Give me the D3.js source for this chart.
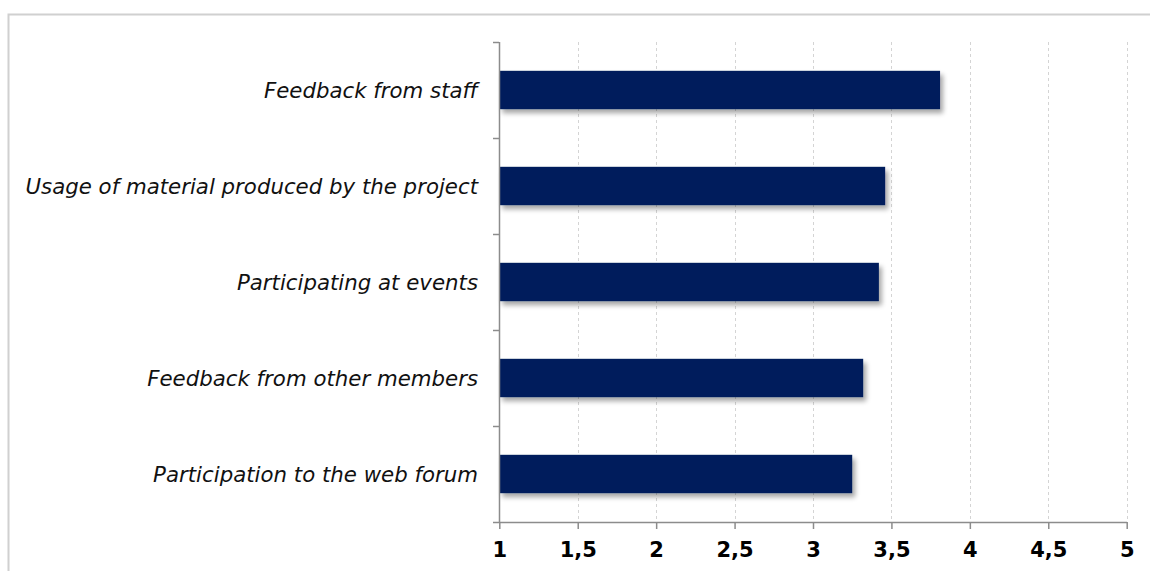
<!DOCTYPE html>
<html><head><meta charset="utf-8">
<script src="https://cdn.jsdelivr.net/npm/d3@7"></script>
<style>body{margin:0;background:#fff}svg{display:block}</style>
</head><body>
<script>
const categories = ["Feedback from staff","Usage of material produced by the project","Participating at events","Feedback from other members","Participation to the web forum"];
const values = [3.81, 3.46, 3.42, 3.32, 3.25];
const ticks = [1,1.5,2,2.5,3,3.5,4,4.5,5];
const tickLabels = ["1","1,5","2","2,5","3","3,5","4","4,5","5"];

const W=1150,H=571;
const svg=d3.select("body").append("svg").attr("width",W).attr("height",H);
const defs=svg.append("defs");
const f=defs.append("filter").attr("id","sh").attr("x","-10%").attr("y","-30%").attr("width","130%").attr("height","180%");
f.append("feGaussianBlur").attr("in","SourceAlpha").attr("stdDeviation",2.5);
f.append("feOffset").attr("dx",3).attr("dy",4).attr("result","b");
f.append("feComponentTransfer").append("feFuncA").attr("type","linear").attr("slope",0.35);
const m=f.append("feMerge");m.append("feMergeNode");m.append("feMergeNode").attr("in","SourceGraphic");

// frame
svg.append("path").attr("d","M8.5,571 L8.5,14.5 L1150,14.5").attr("fill","none").attr("stroke","#d0d0d0").attr("stroke-width",2);

const x=d3.scaleLinear().domain([1,5]).range([499.3,1126.7]);
const y=d3.scaleBand().domain(categories).range([42,522]).paddingInner(0.6).paddingOuter(0.3);

// grid
svg.append("g").selectAll("line").data(ticks.slice(1)).join("line")
 .attr("x1",d=>Math.round(x(d))+0.5).attr("x2",d=>Math.round(x(d))+0.5).attr("y1",42).attr("y2",522)
 .attr("stroke","#d4d4d4").attr("stroke-dasharray","3,3");

// bars
svg.append("g").selectAll("rect").data(values).join("rect")
 .attr("x",x(1)).attr("y",(d,i)=>y(categories[i])).attr("width",d=>x(d)-x(1)).attr("height",y.bandwidth())
 .attr("fill","#001f5c").attr("filter","url(#sh)");

// y axis
const yl=svg.append("g");
yl.append("line").attr("x1",499.5).attr("x2",499.5).attr("y1",42).attr("y2",522).attr("stroke","#8c8c8c").attr("stroke-width",1.5);
const bounds=[42,138,234,330,426];
yl.selectAll("line.t").data(bounds).join("line").attr("class","t").attr("x1",493).attr("x2",499).attr("y1",d=>d+0.5).attr("y2",d=>d+0.5).attr("stroke","#8c8c8c").attr("stroke-width",1.5);
yl.selectAll("text").data(categories).join("text")
 .attr("x",478).attr("y",d=>y(d)+y.bandwidth()/2).attr("dy","0.36em").attr("text-anchor","end")
 .attr("font-family","DejaVu Sans").attr("font-style","italic").attr("font-size",21.3).attr("fill","#111")
 .text(d=>d);

// x axis
const xa=d3.axisBottom(x).tickValues(ticks).tickFormat((d,i)=>tickLabels[i]).tickSize(7).tickPadding(13);
const g=svg.append("g").attr("transform","translate(0,522)").call(xa);
g.select(".domain").attr("stroke","#8c8c8c").attr("stroke-width",1.5).attr("d","M493,0.5H1127");
g.selectAll(".tick line").attr("stroke","#8c8c8c").attr("stroke-width",1.5);
g.selectAll(".tick text").attr("font-family","DejaVu Sans").attr("font-weight","bold").attr("font-size",21).attr("fill","#000");
</script>
</body></html>
